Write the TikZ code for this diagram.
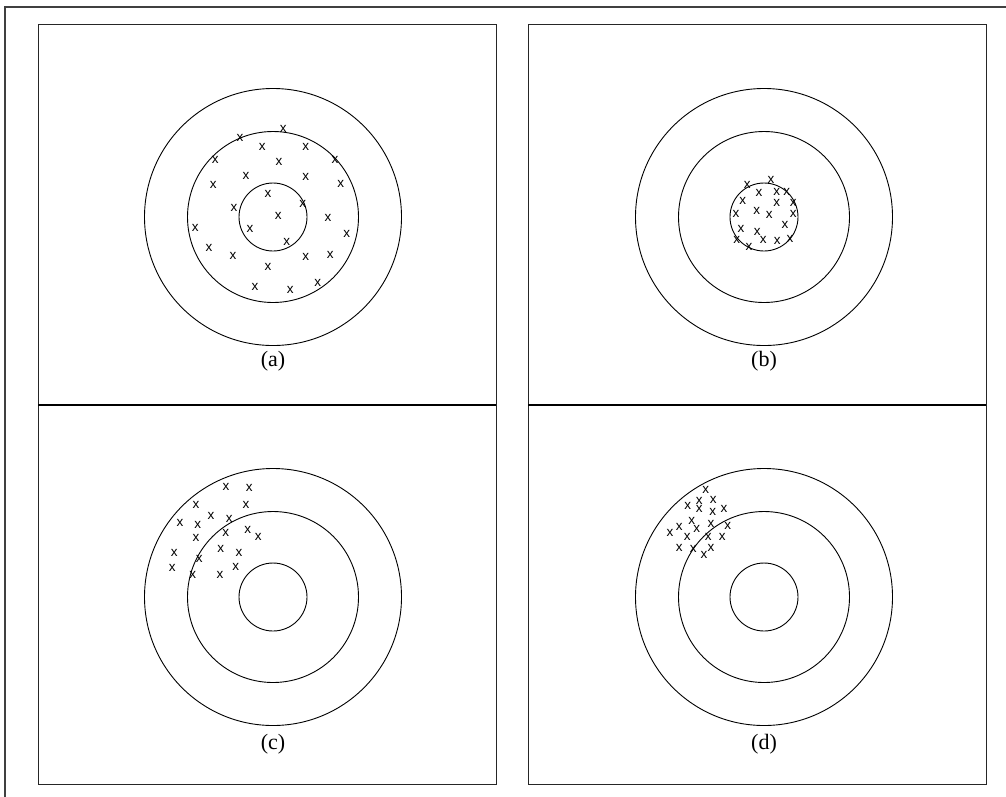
\documentclass[tikz,border=0pt]{standalone}
\usepackage{fontspec}
\setmainfont{Liberation Serif}
\newfontfamily\xfont{Liberation Sans}
\begin{document}
\begin{tikzpicture}[x=1pt,y=-1pt,
  frameline/.style={draw=black!75,line width=1.1pt},
  panel/.style={draw=black!85,line width=1pt},
  divider/.style={draw=black,line width=2pt},
  ring/.style={draw=black,line width=0.9pt},
  xm/.style={inner sep=0pt,font=\xfont\fontsize{13.5}{13.5}\selectfont},
  lbl/.style={inner sep=0pt,font=\fontsize{22}{22}\selectfont}]
\useasboundingbox (0,0) rectangle (1006,796);
\fill[white] (0,0) rectangle (1006,796);
% outer frame
\draw[frameline] (5,800) -- (5,7) -- (1010,7);
% panels
\draw[panel] (38,24) rectangle (496,784);
\draw[panel] (528,24) rectangle (986,784);
\draw[divider] (38,404.5) -- (496,404.5);
\draw[divider] (528,404.5) -- (986,404.5);
% circles
\foreach \cx/\cy in {273/217, 764/217, 273/597, 764/597}{
  \draw[ring] (\cx,\cy) circle[radius=34];
  \draw[ring] (\cx,\cy) circle[radius=85.5];
  \draw[ring] (\cx,\cy) circle[radius=128.5];
}
% labels
\node[lbl] (la) at (273,361) {(a)};
\node[lbl] (lb) at (764,361) {(b)};
\node[lbl] (lc) at (273,744) {(c)};
\node[lbl] (ld) at (764,744) {(d)};
% (a) marks
\foreach \px/\py [count=\i] in {283.3/129.3, 240/138.3, 262.3/146.7, 305.7/146.7, 215.3/160, 279/162, 335/160, 246/175.7, 305.7/176.7, 213.3/185, 340.7/184, 268/194, 302.7/204, 234/208.3, 278.3/216, 328/218.3, 250/229, 195.3/228.3, 346.7/234.3, 286.7/241.7, 209/248.3, 233/256, 305.7/256.7, 330.3/255, 268/266.7, 317.7/283.3, 255/286.7, 290.3/290.3}
  \node[xm] (a\i) at (\px,\py) {x};
% (b) marks
\foreach \px/\py [count=\i] in {747.3/185, 771/180, 759/193.3, 776.7/192.3, 786.7/191.7, 742.7/200.7, 776.7/203.3, 793.3/203.3, 756.7/210.7, 736/214, 769.3/215, 793.3/214, 785/225, 741/229, 757.3/231.7, 736.7/240, 763.3/240, 777.3/240.7, 790/239.3, 749/247.3}
  \node[xm] (b\i) at (\px,\py) {x};
% (c) marks
\foreach \px/\py [count=\i] in {226/487.3, 249.3/488.3, 196/505, 246/505, 211/515.7, 180/522.7, 197.7/525, 229.3/519.3, 196/537.7, 225.7/533.3, 247.7/530, 258.3/536.7, 220.7/549.3, 239/552.7, 174.3/552.7, 199.3/559, 235.7/566.7, 172.3/568.3, 192.7/575.3, 220/575}
  \node[xm] (c\i) at (\px,\py) {x};
% (d) marks
\foreach \px/\py [count=\i] in {705.7/490, 687.7/505.7, 699.3/501, 713.3/500, 699.3/509.3, 712.7/511.7, 724/509.3, 691.7/521, 679.3/526.7, 696.7/529.3, 711/524.3, 727.7/526, 670/533.3, 687.3/537.3, 708.3/537.3, 722.3/536.7, 679.3/547.7, 693.3/549, 711/547.7, 704/555}
  \node[xm] (d\i) at (\px,\py) {x};
\end{tikzpicture}
\end{document}
